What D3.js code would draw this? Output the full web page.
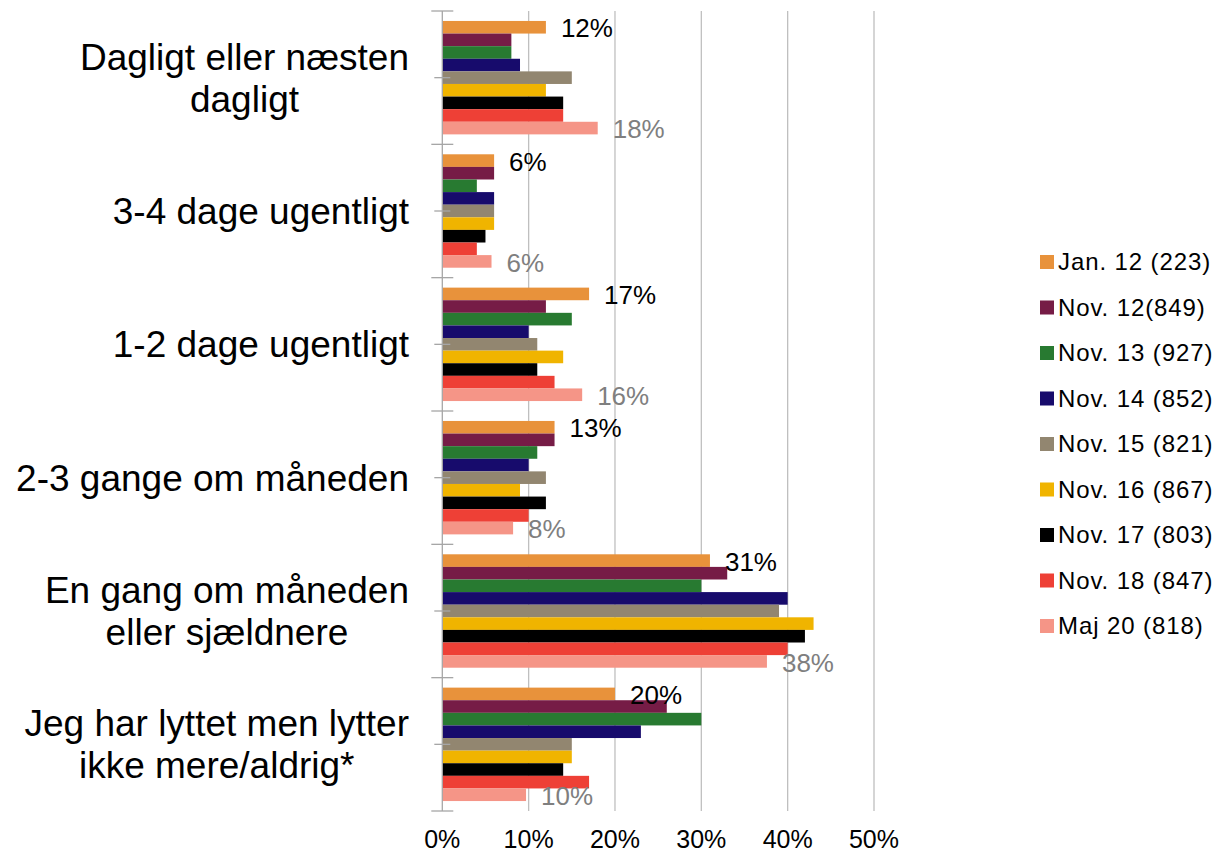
<!DOCTYPE html>
<html>
<head>
<meta charset="utf-8">
<script src="https://cdn.jsdelivr.net/npm/d3@7"></script>
<style>
  body { margin: 0; background: #fff; }
  svg { font-family: "Liberation Sans", Arial, sans-serif; }
</style>
</head>
<body>
<div id="chart"></div>
<script>
// categories (top to bottom)
const categories = [
  ["Dagligt eller næsten", "dagligt"],
  ["3-4 dage ugentligt"],
  ["1-2 dage ugentligt"],
  ["2-3 gange om måneden"],
  ["En gang om måneden", "eller sjældnere"],
  ["Jeg har lyttet men lytter", "ikke mere/aldrig*"]
];

const seriesNames = ["Jan. 12 (223)", "Nov. 12(849)", "Nov. 13 (927)", "Nov. 14 (852)", "Nov. 15 (821)",
  "Nov. 16 (867)", "Nov. 17 (803)", "Nov. 18 (847)", "Maj 20 (818)"];
const seriesColors = ["#e8923b", "#761c46", "#287a31", "#170b6c", "#928670",
  "#f0b400", "#000000", "#ee4036", "#f59587"];

// percent values per series, one per category
const jan12 = [12, 6, 17, 13, 31, 20];
const nov12 = [8, 6, 12, 13, 33, 26];
const nov13 = [8, 4, 15, 11, 30, 30];
const nov14 = [9, 6, 10, 10, 40, 23];
const nov15 = [15, 6, 11, 12, 39, 15];
const nov16 = [12, 6, 14, 9, 43, 15];
const nov17 = [14, 5, 11, 12, 42, 14];
const nov18 = [14, 4, 13, 10, 40, 17];
const maj20 = [18, 5.7, 16.2, 8.2, 37.6, 9.7];

const xTicks = [0, 10, 20, 30, 40, 50];

const seriesValues = [jan12, nov12, nov13, nov14, nov15, nov16, nov17, nov18, maj20];

const width = 1224, height = 854;
const plot = { left: 442.3, right: 874, top: 11, bottom: 811 };

const svg = d3.select("#chart").append("svg")
  .attr("width", width)
  .attr("height", height);

const x = d3.scaleLinear().domain([0, 50]).range([plot.left, plot.right]);

const y = d3.scaleBand()
  .domain(d3.range(categories.length))
  .range([plot.top, plot.bottom])
  .padding(0);

const yInner = d3.scaleBand()
  .domain(d3.range(seriesNames.length))
  .range([0, y.bandwidth()])
  .paddingInner(0)
  .paddingOuter(0.79);

// gridlines
svg.append("g")
  .selectAll("line")
  .data(xTicks.slice(1))
  .enter()
  .append("line")
  .attr("x1", d => x(d)).attr("x2", d => x(d))
  .attr("y1", plot.top).attr("y2", plot.bottom)
  .attr("stroke", "#bfbfbf")
  .attr("stroke-width", 1.3);

// bars
const groups = svg.append("g")
  .selectAll("g")
  .data(seriesValues)
  .enter()
  .append("g")
  .attr("fill", (d, i) => seriesColors[i]);

groups.each(function (vals, si) {
  d3.select(this).selectAll("rect")
    .data(vals)
    .enter()
    .append("rect")
    .attr("x", x(0))
    .attr("y", (d, ci) => y(ci) + yInner(si))
    .attr("width", d => x(d) - x(0))
    .attr("height", yInner.bandwidth());
});

// y axis line and ticks
const axisG = svg.append("g").attr("stroke", "#a6a6a6").attr("stroke-width", 1.3);
axisG.append("line")
  .attr("x1", x(0)).attr("x2", x(0))
  .attr("y1", plot.top).attr("y2", plot.bottom);
axisG.selectAll(".major")
  .data(d3.range(categories.length + 1))
  .enter()
  .append("line")
  .attr("x1", x(0) - 11).attr("x2", x(0) + 11)
  .attr("y1", d => plot.top + d * y.step())
  .attr("y2", d => plot.top + d * y.step());
axisG.selectAll(".minor")
  .data(d3.range(categories.length))
  .enter()
  .append("line")
  .attr("x1", x(0) - 8).attr("x2", x(0) + 8)
  .attr("y1", d => y(d) + y.bandwidth() / 2)
  .attr("y2", d => y(d) + y.bandwidth() / 2);

// x tick labels
svg.append("g")
  .selectAll("text")
  .data(xTicks)
  .enter()
  .append("text")
  .attr("x", d => x(d))
  .attr("y", 848)
  .attr("text-anchor", "middle")
  .attr("font-size", 25)
  .attr("fill", "#000")
  .text(d => d + "%");

// category labels: lines centred on each other, block right-aligned
const lineH = 42;
const catG = svg.append("g");
categories.forEach((lines, ci) => {
  const t = catG.append("text")
    .attr("font-size", 37)
    .attr("text-anchor", "middle")
    .attr("fill", "#000");
  const cy = y(ci) + y.bandwidth() / 2;
  const y0 = cy - (lines.length - 1) * lineH / 2;
  const spans = lines.map((s, li) => t.append("tspan")
    .attr("y", y0 + li * lineH)
    .attr("dy", "0.35em")
    .text(s));
  const maxW = d3.max(spans, s => s.node().getComputedTextLength());
  spans.forEach(s => s.attr("x", 409 - maxW / 2));
});

// data labels for first and last series
const labelSeries = [
  { idx: 0, color: "#000000" },
  { idx: seriesValues.length - 1, color: "#7f7f7f" }
];
labelSeries.forEach(ls => {
  svg.append("g")
    .selectAll("text")
    .data(seriesValues[ls.idx])
    .enter()
    .append("text")
    .attr("x", d => x(d) + 15)
    .attr("y", (d, ci) => y(ci) + yInner(ls.idx) + yInner.bandwidth() / 2 + 1)
    .attr("dy", "0.35em")
    .attr("font-size", 26)
    .attr("fill", ls.color)
    .text(d => Math.round(d) + "%");
});

// legend
const legend = svg.append("g");
seriesNames.forEach((name, i) => {
  const cy = 262 + i * 45.5;
  legend.append("rect")
    .attr("x", 1040).attr("y", cy - 7)
    .attr("width", 14).attr("height", 14)
    .attr("fill", seriesColors[i]);
  legend.append("text")
    .attr("x", 1058).attr("y", cy)
    .attr("dy", "0.35em")
    .attr("font-size", 24)
    .attr("letter-spacing", 0.9)
    .attr("fill", "#000")
    .text(name);
});
</script>
</body>
</html>
